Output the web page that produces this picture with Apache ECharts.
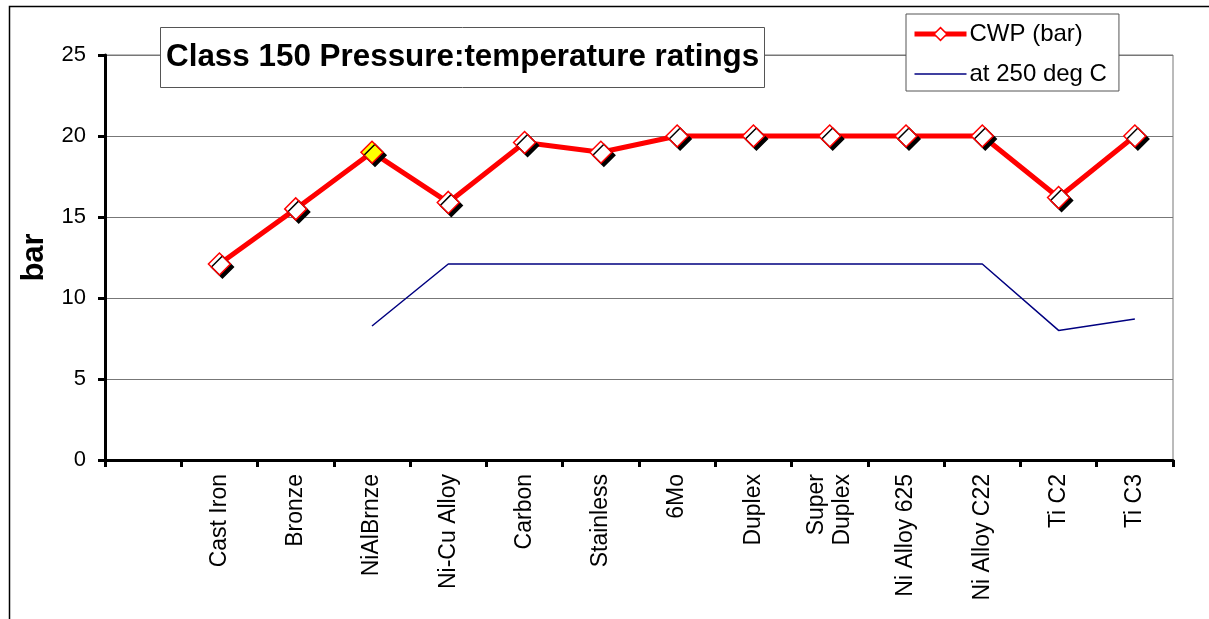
<!DOCTYPE html>
<html><head><meta charset="utf-8">
<script src="https://cdn.jsdelivr.net/npm/echarts@6/dist/echarts.min.js"></script>
<style>html,body{margin:0;padding:0;background:#fff}#c{width:1209px;height:619px}</style>
</head><body><div id="c"></div>
<script>
const categories = ['', 'Cast Iron', 'Bronze', 'NiAlBrnze', 'Ni-Cu Alloy', 'Carbon', 'Stainless', '6Mo', 'Duplex', 'Super\nDuplex', 'Ni Alloy 625', 'Ni Alloy C22', 'Ti C2', 'Ti C3'];
const cwp = [null, 12.1, 15.5, 19.0, 15.9, 19.6, 19.0, 20, 20, 20, 20, 20, 16.2, 20];
const at250 = [null, null, null, 8.27, 12.1, 12.1, 12.1, 12.1, 12.1, 12.1, 12.1, 12.1, 8.0, 8.7];
const yTicks = [0, 5, 10, 15, 20, 25];
const FONT = '"Liberation Sans", Arial, sans-serif';

const chart = echarts.init(document.getElementById('c'), null, {renderer: 'canvas'});
const cwpData = cwp.map((v, i) => i === 3
  ? {value: v, itemStyle: {color: '#ffff00'}}
  : v);
chart.setOption({
  animation: false,
  backgroundColor: '#fff',
  title: {
    text: 'Class 150 Pressure:temperature ratings',
    left: 160, top: 27,
    padding: [15, 6, 15, 6],
    borderColor: '#555', borderWidth: 1, backgroundColor: '#fff',
    textStyle: {fontFamily: FONT, fontSize: 31.4, fontWeight: 'bold', color: '#000'}
  },
  legend: {
    left: 906, top: 14,
    orient: 'vertical',
    padding: [8, 12, 5, 6],
    itemGap: 16,
    itemWidth: 52, itemHeight: 16,
    borderColor: '#555', borderWidth: 1, backgroundColor: '#fff',
    textStyle: {fontFamily: FONT, fontSize: 24, color: '#000', padding: [0,0,0,-2]},
    data: [
      {name: 'CWP (bar)', lineStyle: {width: 5, color: '#ff0000'},
        itemStyle: {color: '#fff', borderColor: '#ff0000', borderWidth: 1.5, shadowColor: 'rgba(0,0,0,0)', shadowOffsetX: 0, shadowOffsetY: 0}},
      {name: 'at 250 deg C', lineStyle: {width: 1.5, color: '#000080'},
        itemStyle: {color: 'rgba(0,0,0,0)', borderWidth: 0, opacity: 0}}
    ]
  },
  grid: {left: 105, right: 36, top: 55, bottom: 159, show: true, borderColor: '#777', borderWidth: 1},
  xAxis: {
    type: 'category',
    data: categories,
    boundaryGap: true,
    axisLine: {lineStyle: {color: '#000', width: 3}},
    axisTick: {show: true, length: 7, lineStyle: {color: '#000', width: 3}, interval: 0},
    axisLabel: {interval: 0, rotate: 90, margin: 14, fontFamily: FONT, fontSize: 23, color: '#000', lineHeight: 26},
    splitLine: {show: false}
  },
  yAxis: {
    type: 'value', min: 0, max: 25, interval: 5,
    name: 'bar', nameLocation: 'middle', nameGap: 55, nameRotate: 90,
    nameTextStyle: {fontFamily: FONT, fontSize: 31, fontWeight: 'bold', color: '#000'},
    axisLine: {show: true, lineStyle: {color: '#000', width: 3}},
    axisTick: {show: true, length: 7, lineStyle: {color: '#000', width: 3}},
    axisLabel: {margin: 19, fontFamily: FONT, fontSize: 22, color: '#000',
      formatter: v => yTicks.includes(v) ? String(v) : ''},
    splitLine: {show: true, lineStyle: {color: '#777', width: 1}}
  },
  series: [
    {
      name: 'CWP (bar)', type: 'line', data: cwpData,
      symbol: 'diamond', symbolSize: 22,
      lineStyle: {color: '#ff0000', width: 5},
      itemStyle: {color: '#ffffff', borderColor: '#ff0000', borderWidth: 1.5,
        shadowColor: '#000', shadowOffsetX: 3, shadowOffsetY: 3, shadowBlur: 0},
      z: 3
    },
    {
      name: 'at 250 deg C', type: 'line', data: at250,
      symbol: 'none', showSymbol: false,
      lineStyle: {color: '#000080', width: 1.5},
      itemStyle: {color: '#000080'},
      z: 2
    }
  ],
  graphic: [
    {type: 'polyline', shape: {points: [[9.5, 640], [9.5, 6.5], [1230, 6.5]]},
      style: {stroke: '#000', lineWidth: 1.5, fill: null}, silent: true}
  ]
});
</script></body></html>
